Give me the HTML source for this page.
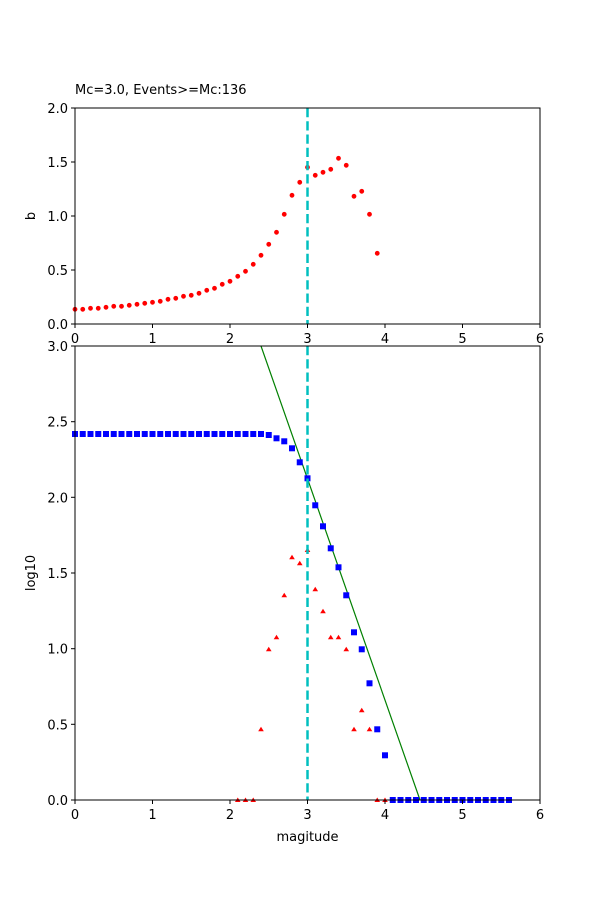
<!DOCTYPE html>
<html><head><meta charset="utf-8"><style>body{margin:0;background:#fff}svg{display:block}text{font-family:"DejaVu Sans","Liberation Sans",sans-serif;font-size:13px;fill:#000}</style></head><body>
<svg width="600" height="900" viewBox="0 0 600 900" xmlns="http://www.w3.org/2000/svg">
<rect width="600" height="900" fill="#fff"/>
<text x="75" y="94">Mc=3.0, Events&gt;=Mc:136</text>
<!-- top axes -->
<g fill="red">
<circle cx="75" cy="309.3" r="2.4"/><circle cx="82.75" cy="309.3" r="2.4"/><circle cx="90.5" cy="308.3" r="2.4"/><circle cx="98.25" cy="308.3" r="2.4"/><circle cx="106" cy="307.3" r="2.4"/><circle cx="113.75" cy="306.3" r="2.4"/><circle cx="121.5" cy="306.3" r="2.4"/><circle cx="129.25" cy="305.3" r="2.4"/><circle cx="137" cy="304.3" r="2.4"/><circle cx="144.75" cy="303.3" r="2.4"/><circle cx="152.5" cy="302.3" r="2.4"/><circle cx="160.25" cy="301.3" r="2.4"/><circle cx="168" cy="299.3" r="2.4"/><circle cx="175.75" cy="298.3" r="2.4"/><circle cx="183.5" cy="296.3" r="2.4"/><circle cx="191.25" cy="295.3" r="2.4"/><circle cx="199" cy="293.3" r="2.4"/><circle cx="206.75" cy="290.3" r="2.4"/><circle cx="214.5" cy="288.3" r="2.4"/><circle cx="222.25" cy="284.3" r="2.4"/><circle cx="230" cy="281.3" r="2.4"/><circle cx="237.75" cy="276.3" r="2.4"/><circle cx="245.5" cy="271.3" r="2.4"/><circle cx="253.25" cy="264.3" r="2.4"/><circle cx="261" cy="255.3" r="2.4"/><circle cx="268.75" cy="244.3" r="2.4"/><circle cx="276.5" cy="232.3" r="2.4"/><circle cx="284.25" cy="214.3" r="2.4"/><circle cx="292" cy="195.3" r="2.4"/><circle cx="299.75" cy="182.3" r="2.4"/><circle cx="307.5" cy="167.3" r="2.4"/><circle cx="315.25" cy="175.3" r="2.4"/><circle cx="323" cy="172.3" r="2.4"/><circle cx="330.75" cy="169.3" r="2.4"/><circle cx="338.5" cy="158.3" r="2.4"/><circle cx="346.25" cy="165.3" r="2.4"/><circle cx="354" cy="196.3" r="2.4"/><circle cx="361.75" cy="191.3" r="2.4"/><circle cx="369.5" cy="214.3" r="2.4"/><circle cx="377.25" cy="253.3" r="2.4"/>
</g>
<line x1="307.5" y1="108" x2="307.5" y2="324" stroke="#00bfbf" stroke-width="2.5" stroke-dasharray="9.25,4"/>
<rect x="75" y="108" width="465" height="216" fill="none" stroke="#000" stroke-width="1"/>
<g stroke="#000"><line x1="75" y1="324" x2="75" y2="328"/><line x1="152.5" y1="324" x2="152.5" y2="328"/><line x1="230" y1="324" x2="230" y2="328"/><line x1="307.5" y1="324" x2="307.5" y2="328"/><line x1="385" y1="324" x2="385" y2="328"/><line x1="462.5" y1="324" x2="462.5" y2="328"/><line x1="540" y1="324" x2="540" y2="328"/>
<line x1="71" y1="324" x2="75" y2="324"/><line x1="71" y1="270" x2="75" y2="270"/><line x1="71" y1="216" x2="75" y2="216"/><line x1="71" y1="162" x2="75" y2="162"/><line x1="71" y1="108" x2="75" y2="108"/></g>
<g text-anchor="middle"><text x="75" y="343">0</text><text x="152.5" y="343">1</text><text x="230" y="343">2</text><text x="307.5" y="343">3</text><text x="385" y="343">4</text><text x="462.5" y="343">5</text><text x="540" y="343">6</text></g>
<g text-anchor="end"><text x="68" y="329">0.0</text><text x="68" y="275">0.5</text><text x="68" y="221">1.0</text><text x="68" y="167">1.5</text><text x="68" y="113">2.0</text></g>
<text transform="translate(35,216) rotate(-90)" text-anchor="middle">b</text>
<!-- bottom axes -->
<svg x="75" y="346" width="465" height="454" overflow="hidden" viewBox="75 346 465 454">
<line x1="261" y1="346" x2="420" y2="800" stroke="green" stroke-width="1.2"/>
</svg>
<g fill="blue">
<rect x="72" y="431" width="6" height="6"/><rect x="79.75" y="431" width="6" height="6"/><rect x="87.5" y="431" width="6" height="6"/><rect x="95.25" y="431" width="6" height="6"/><rect x="103" y="431" width="6" height="6"/><rect x="110.75" y="431" width="6" height="6"/><rect x="118.5" y="431" width="6" height="6"/><rect x="126.25" y="431" width="6" height="6"/><rect x="134" y="431" width="6" height="6"/><rect x="141.75" y="431" width="6" height="6"/><rect x="149.5" y="431" width="6" height="6"/><rect x="157.25" y="431" width="6" height="6"/><rect x="165" y="431" width="6" height="6"/><rect x="172.75" y="431" width="6" height="6"/><rect x="180.5" y="431" width="6" height="6"/><rect x="188.25" y="431" width="6" height="6"/><rect x="196" y="431" width="6" height="6"/><rect x="203.75" y="431" width="6" height="6"/><rect x="211.5" y="431" width="6" height="6"/><rect x="219.25" y="431" width="6" height="6"/><rect x="227" y="431" width="6" height="6"/><rect x="234.75" y="431" width="6" height="6"/><rect x="242.5" y="431" width="6" height="6"/><rect x="250.25" y="431" width="6" height="6"/><rect x="258" y="431" width="6" height="6"/>
<rect x="265.75" y="432" width="6" height="6"/><rect x="273.5" y="435.3" width="6" height="6"/><rect x="281.25" y="438.3" width="6" height="6"/><rect x="289" y="445.3" width="6" height="6"/><rect x="296.75" y="459.3" width="6" height="6"/><rect x="304.5" y="475.3" width="6" height="6"/><rect x="312.25" y="502.3" width="6" height="6"/><rect x="320" y="523.3" width="6" height="6"/><rect x="327.75" y="545.3" width="6" height="6"/><rect x="335.5" y="564.3" width="6" height="6"/><rect x="343.25" y="592.3" width="6" height="6"/><rect x="351" y="629.3" width="6" height="6"/><rect x="358.75" y="646.3" width="6" height="6"/><rect x="366.5" y="680.3" width="6" height="6"/><rect x="374.25" y="726.3" width="6" height="6"/><rect x="382" y="752.3" width="6" height="6"/>
<rect x="389.75" y="797" width="6" height="6"/><rect x="397.5" y="797" width="6" height="6"/><rect x="405.25" y="797" width="6" height="6"/><rect x="413" y="797" width="6" height="6"/><rect x="420.75" y="797" width="6" height="6"/><rect x="428.5" y="797" width="6" height="6"/><rect x="436.25" y="797" width="6" height="6"/><rect x="444" y="797" width="6" height="6"/><rect x="451.75" y="797" width="6" height="6"/><rect x="459.5" y="797" width="6" height="6"/><rect x="467.25" y="797" width="6" height="6"/><rect x="475" y="797" width="6" height="6"/><rect x="482.75" y="797" width="6" height="6"/><rect x="490.5" y="797" width="6" height="6"/><rect x="498.25" y="797" width="6" height="6"/><rect x="506" y="797" width="6" height="6"/>
</g>
<g fill="red">
<path d="M237.75 797.5l2.8 4.5h-5.6z"/><path d="M245.5 797.5l2.8 4.5h-5.6z"/><path d="M253.25 797.5l2.8 4.5h-5.6z"/>
<path d="M261 726.8l2.8 4.5h-5.6z"/><path d="M268.75 646.8l2.8 4.5h-5.6z"/><path d="M276.5 634.8l2.8 4.5h-5.6z"/><path d="M284.25 592.8l2.8 4.5h-5.6z"/><path d="M292 554.8l2.8 4.5h-5.6z"/><path d="M299.75 560.8l2.8 4.5h-5.6z"/><path d="M307.5 547.5l2.8 4.5h-5.6z"/><path d="M315.25 586.8l2.8 4.5h-5.6z"/><path d="M323 608.8l2.8 4.5h-5.6z"/><path d="M330.75 634.8l2.8 4.5h-5.6z"/><path d="M338.5 634.8l2.8 4.5h-5.6z"/><path d="M346.25 646.8l2.8 4.5h-5.6z"/><path d="M354 726.8l2.8 4.5h-5.6z"/><path d="M361.75 707.8l2.8 4.5h-5.6z"/><path d="M369.5 726.8l2.8 4.5h-5.6z"/><path d="M377.25 797.5l2.8 4.5h-5.6z"/><path d="M385 797.5l2.8 4.5h-5.6z"/>
</g>
<line x1="307.5" y1="346" x2="307.5" y2="800" stroke="#00bfbf" stroke-width="2.5" stroke-dasharray="9.25,4"/>
<rect x="75" y="346" width="465" height="454" fill="none" stroke="#000" stroke-width="1"/>
<g stroke="#000"><line x1="75" y1="800" x2="75" y2="804"/><line x1="152.5" y1="800" x2="152.5" y2="804"/><line x1="230" y1="800" x2="230" y2="804"/><line x1="307.5" y1="800" x2="307.5" y2="804"/><line x1="385" y1="800" x2="385" y2="804"/><line x1="462.5" y1="800" x2="462.5" y2="804"/><line x1="540" y1="800" x2="540" y2="804"/>
<line x1="71" y1="800" x2="75" y2="800"/><line x1="71" y1="724.3" x2="75" y2="724.3"/><line x1="71" y1="648.7" x2="75" y2="648.7"/><line x1="71" y1="573" x2="75" y2="573"/><line x1="71" y1="497.3" x2="75" y2="497.3"/><line x1="71" y1="421.7" x2="75" y2="421.7"/><line x1="71" y1="346" x2="75" y2="346"/></g>
<g text-anchor="middle"><text x="75" y="819">0</text><text x="152.5" y="819">1</text><text x="230" y="819">2</text><text x="307.5" y="819">3</text><text x="385" y="819">4</text><text x="462.5" y="819">5</text><text x="540" y="819">6</text></g>
<g text-anchor="end"><text x="68" y="805">0.0</text><text x="68" y="729.3">0.5</text><text x="68" y="653.7">1.0</text><text x="68" y="578">1.5</text><text x="68" y="502.3">2.0</text><text x="68" y="426.7">2.5</text><text x="68" y="351">3.0</text></g>
<text x="307.5" y="841" text-anchor="middle">magitude</text>
<text transform="translate(35,573) rotate(-90)" text-anchor="middle">log10</text>
</svg>
</body></html>
